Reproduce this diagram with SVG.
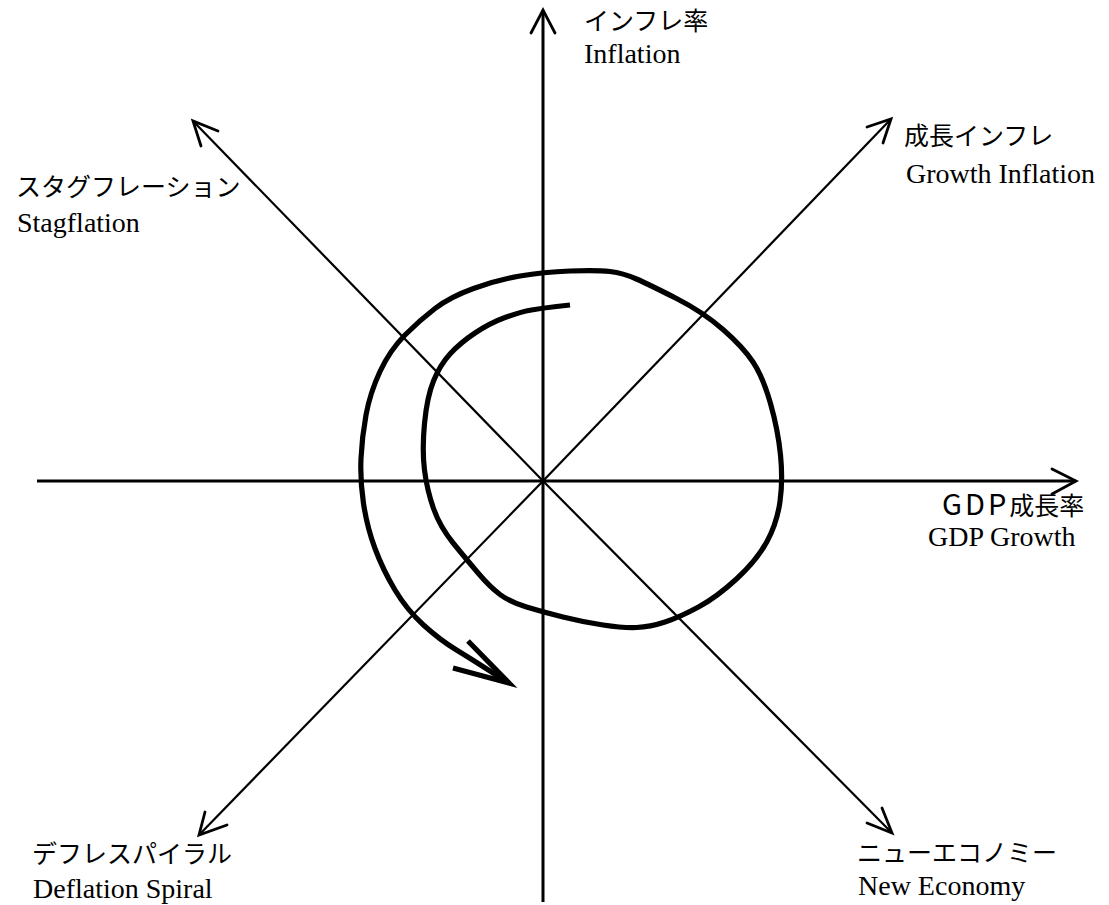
<svg xmlns="http://www.w3.org/2000/svg" width="1109" height="905" viewBox="0 0 1109 905">
<style>
.ax{stroke:#000;stroke-width:3;fill:none;stroke-linecap:butt}
.dg{stroke:#000;stroke-width:2.2;fill:none}
.ah{stroke:#000;stroke-width:2.8;fill:none;stroke-linecap:round;stroke-linejoin:miter}
.sp{stroke:#000;stroke-width:5.2;fill:none;stroke-linecap:butt;stroke-linejoin:round}
.jp{font-family:"Noto Sans CJK JP","Noto Sans",sans-serif;font-size:25px;fill:#000}
.en{font-family:"Liberation Serif","Times New Roman",serif;font-size:28px;fill:#000}
</style>
<rect width="1109" height="905" fill="#fff"/>
<g id="connectors">
  <line class="ax" x1="543" y1="10" x2="543" y2="902"/>
  <polyline class="ah" points="531,33 543,10 555,33"/>
  <line class="ax" x1="37" y1="481" x2="1076" y2="481"/>
  <polyline class="ah" points="1052,469 1076,481 1052,494"/>
  <line class="dg" x1="543" y1="481" x2="891" y2="119"/>
  <polyline class="ah" points="867,127 891,119 883,143"/>
  <line class="dg" x1="543" y1="481" x2="193" y2="121"/>
  <polyline class="ah" points="218,131 193,121 201,146"/>
  <line class="dg" x1="543" y1="481" x2="199" y2="835"/>
  <polyline class="ah" points="205,812 199,835 227,825"/>
  <line class="dg" x1="543" y1="481" x2="892" y2="833"/>
  <polyline class="ah" points="882,808 892,833 867,823"/>
</g>
<g id="spiral">
  <path class="sp" d="M 570,305 L 556.5,306.5 Q 543,308 531.5,310 Q 520,312 505,317.5 Q 490,323 475,333 Q 460,343 450,354 Q 440,365 433.5,381 Q 427,397 424.5,423.5 Q 422,450 424.5,470 Q 427,490 433.5,508.5 Q 440,527 453.5,543.5 Q 467,560 478.5,573.5 Q 490,587 500,594.5 Q 510,602 526.5,607 Q 543,612 563,617 Q 583,622 603,625 Q 623,628 636.5,627.5 Q 650,627 665,622 Q 680,617 698.5,607 Q 717,597 737,578.5 Q 757,560 767,541.5 Q 777,523 780,501.5 Q 783,480 780.5,455 Q 778,430 770.5,403.5 Q 763,377 753,362 Q 743,347 723,329.5 Q 703,312 676.5,298.5 Q 650,285 636.5,279 Q 623,273 610,271.5 Q 597,270 570,271 Q 543,272 520,276 Q 497,280 473.5,288.5 Q 450,297 435,308.5 Q 420,320 405,335 Q 390,350 380,371.5 Q 370,393 366,415 Q 362,437 361,458.5 Q 360,480 363.5,503.5 Q 367,527 375,548.5 Q 383,570 395,590 Q 407,610 423.5,625 Q 440,640 456.5,650 Q 473,660 507,682"/>
  <polyline class="sp" points="468,641 509,683 453,668" style="stroke-linejoin:miter"/>
</g>
<g id="node-inflation">
  <text class="jp" x="584" y="30">インフレ率</text>
  <text class="en" x="584" y="63">Inflation</text>
</g>
<g id="node-growth-inflation">
  <text class="jp" x="904" y="145">成長インフレ</text>
  <text class="en" x="906" y="183">Growth Inflation</text>
</g>
<g id="node-stagflation">
  <text class="jp" x="16" y="196">スタグフレーション</text>
  <text class="en" x="17" y="232">Stagflation</text>
</g>
<g id="node-gdp-growth">
  <text class="jp" x="942" y="515"><tspan font-size="29" letter-spacing="3">GDP</tspan>成長率</text>
  <text class="en" x="928" y="546">GDP Growth</text>
</g>
<g id="node-deflation-spiral">
  <text class="jp" x="32" y="863">デフレスパイラル</text>
  <text class="en" x="33" y="898">Deflation Spiral</text>
</g>
<g id="node-new-economy">
  <text class="jp" x="857" y="862">ニューエコノミー</text>
  <text class="en" x="858" y="895">New Economy</text>
</g>
</svg>
